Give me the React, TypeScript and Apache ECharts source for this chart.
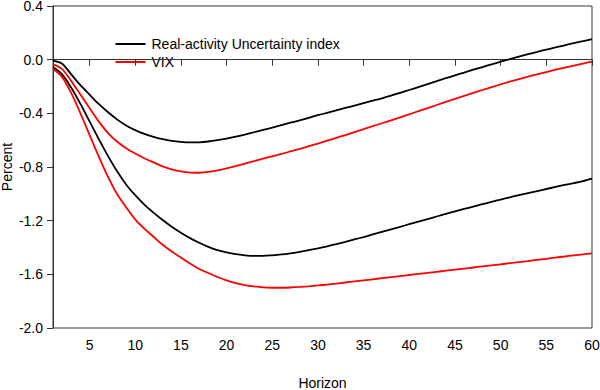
import React, { useEffect, useRef } from "react";
import * as echarts from "echarts";

const horizons = [
  1, 2, 3, 4, 5, 6, 7, 8, 9, 10, 11, 12, 13, 14, 15, 16, 17, 18, 19, 20,
  21, 22, 23, 24, 25, 26, 27, 28, 29, 30, 31, 32, 33, 34, 35, 36, 37, 38, 39, 40,
  41, 42, 43, 44, 45, 46, 47, 48, 49, 50, 51, 52, 53, 54, 55, 56, 57, 58, 59, 60,
];

const realUpper = [
  -0.007, -0.03, -0.11, -0.19, -0.26, -0.33, -0.39, -0.445, -0.49, -0.525,
  -0.553, -0.575, -0.592, -0.605, -0.613, -0.617, -0.616, -0.61, -0.6, -0.588,
  -0.574, -0.558, -0.541, -0.524, -0.506, -0.488, -0.47, -0.452, -0.433, -0.414,
  -0.396, -0.378, -0.36, -0.342, -0.324, -0.306, -0.288, -0.268, -0.247, -0.226,
  -0.204, -0.182, -0.16, -0.138, -0.117, -0.096, -0.075, -0.055, -0.035, -0.015,
  0.004, 0.023, 0.041, 0.058, 0.075, 0.091, 0.107, 0.123, 0.138, 0.153,
];

const realLower = [
  -0.055, -0.11, -0.21, -0.33, -0.46, -0.59, -0.715, -0.83, -0.93, -1.01,
  -1.08, -1.14, -1.195, -1.245, -1.29, -1.33, -1.365, -1.395, -1.42, -1.437,
  -1.45, -1.458, -1.462, -1.462, -1.458, -1.452, -1.443, -1.432, -1.42, -1.406,
  -1.391, -1.375, -1.358, -1.34, -1.322, -1.303, -1.284, -1.265, -1.246, -1.226,
  -1.207, -1.188, -1.169, -1.15, -1.131, -1.113, -1.095, -1.077, -1.06, -1.043,
  -1.026, -1.01, -0.994, -0.979, -0.964, -0.949, -0.934, -0.92, -0.905, -0.886,
];

const vixUpper = [
  -0.035, -0.07, -0.16, -0.26, -0.36, -0.46, -0.545, -0.61, -0.66, -0.7,
  -0.735, -0.765, -0.795, -0.817, -0.833, -0.842, -0.843, -0.837, -0.825, -0.81,
  -0.793, -0.775, -0.757, -0.738, -0.72, -0.703, -0.684, -0.665, -0.645, -0.625,
  -0.604, -0.583, -0.562, -0.54, -0.518, -0.496, -0.474, -0.452, -0.43, -0.407,
  -0.384, -0.361, -0.338, -0.315, -0.292, -0.27, -0.248, -0.226, -0.205, -0.184,
  -0.164, -0.145, -0.127, -0.109, -0.092, -0.075, -0.059, -0.044, -0.029, -0.015,
];

const vixLower = [
  -0.07, -0.13, -0.25, -0.4, -0.56, -0.72, -0.87, -1.0, -1.1, -1.19,
  -1.26, -1.32, -1.38, -1.43, -1.475, -1.52, -1.56, -1.59, -1.62, -1.645,
  -1.665, -1.68, -1.69, -1.697, -1.7, -1.7, -1.698, -1.694, -1.689, -1.683,
  -1.676, -1.669, -1.661, -1.653, -1.645, -1.637, -1.629, -1.621, -1.613, -1.605,
  -1.597, -1.589, -1.581, -1.573, -1.565, -1.557, -1.549, -1.541, -1.533, -1.525,
  -1.517, -1.509, -1.501, -1.492, -1.484, -1.475, -1.467, -1.459, -1.451, -1.443,
];

const seriesNames = ["Real-activity Uncertainty index", "VIX"];
const seriesColors = ["#000000", "#ff0000"];

const FONT = "'Liberation Sans', Arial, sans-serif";

export default function App() {
  const ref = useRef<HTMLDivElement>(null);

  useEffect(() => {
    if (!ref.current) return;
    const chart = echarts.init(ref.current, undefined, { renderer: "svg" });
    const mkLine = (name: string, color: string, data: number[]) => ({
      name,
      type: "line",
      data,
      showSymbol: false,
      symbol: "none",
      smooth: 0.3,
      lineStyle: { color, width: 1.8 },
      itemStyle: { color },
      emphasis: { disabled: true },
    });
    const legendRows = seriesNames.map((n, i) => ({
      type: "group",
      left: 113,
      top: 37 + i * 18,
      children: [
        {
          type: "line",
          shape: { x1: 0, y1: 7, x2: 30, y2: 7 },
          style: { stroke: seriesColors[i], lineWidth: 2 },
        },
        {
          type: "text",
          x: 36,
          y: 7,
          style: {
            text: n,
            fill: "#000",
            font: `14px ${FONT}`,
            verticalAlign: "middle",
            align: "left",
          },
        },
      ],
    }));
    chart.setOption({
      animation: false,
      textStyle: { fontFamily: FONT },
      grid: {
        left: 53,
        right: 8,
        top: 6,
        bottom: 62,
        show: true,
        borderColor: "#333",
        borderWidth: 1,
        containLabel: false,
        outerBoundsMode: "none",
      },
      legend: { show: false },
      graphic: legendRows,
      xAxis: {
        type: "category",
        data: horizons,
        boundaryGap: false,
        name: "Horizon",
        nameLocation: "middle",
        nameGap: 48,
        nameMoveOverlap: false,
        nameTextStyle: { fontFamily: FONT, fontSize: 14, color: "#000" },
        axisLine: { show: true, lineStyle: { color: "#333", width: 1 } },
        axisTick: {
          show: true,
          length: 6,
          interval: (i: number, v: string) => Number(v) % 5 === 0,
          lineStyle: { color: "#333" },
        },
        axisLabel: {
          interval: (i: number, v: string) => Number(v) % 5 === 0,
          margin: 10,
          fontFamily: FONT,
          fontSize: 14,
          color: "#000",
        },
        splitLine: { show: false },
      },
      yAxis: {
        type: "value",
        min: -2.0,
        max: 0.4,
        interval: 0.4,
        name: "Percent",
        nameLocation: "middle",
        nameGap: 39,
        nameMoveOverlap: false,
        nameTextStyle: { fontFamily: FONT, fontSize: 14, color: "#000" },
        axisLine: { show: true, lineStyle: { color: "#333", width: 1 } },
        axisTick: { show: true, length: 6, lineStyle: { color: "#333" } },
        axisLabel: {
          formatter: (v: number) => v.toFixed(1),
          margin: 10,
          fontFamily: FONT,
          fontSize: 14,
          color: "#000",
        },
        splitLine: { show: false },
      },
      series: [
        mkLine(seriesNames[0], seriesColors[0], realUpper),
        mkLine(seriesNames[0], seriesColors[0], realLower),
        mkLine(seriesNames[1], seriesColors[1], vixUpper),
        mkLine(seriesNames[1], seriesColors[1], vixLower),
      ],
    });
    return () => chart.dispose();
  }, []);

  return (
    <div
      ref={ref}
      style={{ position: "absolute", left: 0, top: 0, width: 600, height: 390 }}
    />
  );
}
